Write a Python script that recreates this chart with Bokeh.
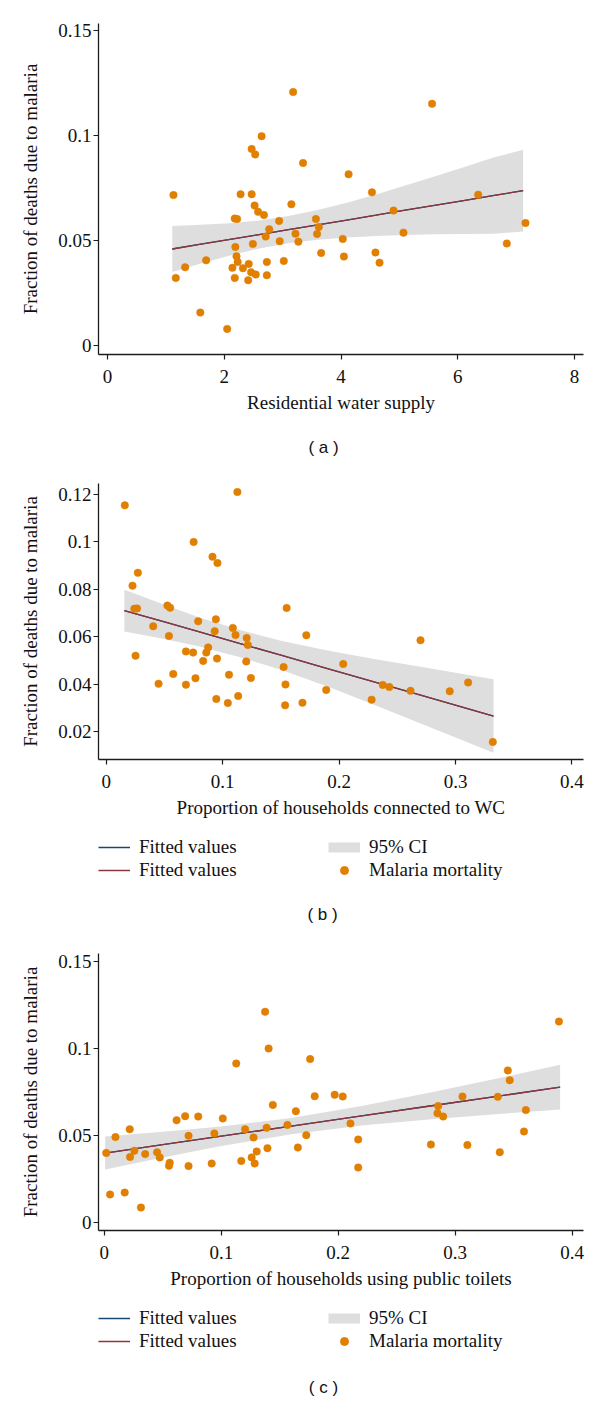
from bokeh.plotting import figure
from bokeh.models import (Range1d, FixedTicker, CustomJSTickFormatter, Legend, LegendItem, Label)
from bokeh.layouts import column
from bokeh.embed import file_html
from bokeh.resources import INLINE

# ---------------- data ----------------
# (a) residential water supply
a_x = [1.13, 1.17, 1.33, 1.69, 1.59, 2.05, 2.14, 2.18, 2.19, 2.18, 2.22, 2.21, 2.23, 2.28, 2.32,
       2.41, 2.42, 2.46, 2.47, 2.53, 2.47, 2.52, 2.58, 2.68, 2.49, 2.54, 2.64, 2.71, 2.77, 2.73,
       2.73, 2.94, 2.95, 3.02, 3.15, 3.18, 3.22, 3.27, 3.35, 3.57, 3.59, 3.62, 3.66, 4.03, 4.05,
       4.13, 4.53, 4.59, 4.66, 4.90, 5.07, 5.56, 6.35, 6.84, 7.16]
a_y = [0.0717, 0.0322, 0.0373, 0.0406, 0.0157, 0.0079, 0.0370, 0.0322, 0.0470, 0.0605, 0.0603,
       0.0425, 0.0398, 0.0721, 0.0368, 0.0311, 0.0389, 0.0349, 0.0937, 0.0911, 0.0721, 0.0667,
       0.0637, 0.0622, 0.0484, 0.0338, 0.0998, 0.0519, 0.0554, 0.0398, 0.0335, 0.0594, 0.0497,
       0.0403, 0.0673, 0.1208, 0.0533, 0.0495, 0.0870, 0.0603, 0.0532, 0.0565, 0.0441, 0.0508,
       0.0424, 0.0816, 0.0730, 0.0443, 0.0395, 0.0643, 0.0538, 0.1152, 0.0719, 0.0486, 0.0584]
a_fit_x = [1.11, 1.6, 2.1, 2.6, 3.1, 3.6, 4.1, 4.6, 5.1, 5.6, 6.1, 6.6, 7.12]
a_fit_y = [0.0460, 0.0483, 0.0506, 0.0529, 0.0552, 0.0575, 0.0598, 0.0621, 0.0645, 0.0668,
           0.0691, 0.0714, 0.0738]
a_ci_hi = [0.0570, 0.0575, 0.0583, 0.0596, 0.0617, 0.0646, 0.0681, 0.0720, 0.0763, 0.0806,
           0.0850, 0.0895, 0.0933]
a_ci_lo = [0.0350, 0.0391, 0.0429, 0.0462, 0.0487, 0.0504, 0.0515, 0.0522, 0.0527, 0.0530,
           0.0532, 0.0533, 0.0543]

# (b) proportion of households connected to WC
b_x = [0.0159, 0.0225, 0.0271, 0.0241, 0.0264, 0.0251, 0.0403, 0.0449, 0.0525, 0.0548, 0.0538,
       0.0575, 0.0684, 0.0684, 0.0746, 0.0750, 0.0766, 0.0789, 0.0832, 0.0859, 0.0875, 0.0912,
       0.0931, 0.0941, 0.0945, 0.0955, 0.0951, 0.1044, 0.1054, 0.1087, 0.1110, 0.1126, 0.1133,
       0.1206, 0.1216, 0.1202, 0.1242, 0.1523, 0.1539, 0.1536, 0.1549, 0.1685, 0.1718, 0.1889,
       0.2035, 0.2279, 0.2375, 0.2431, 0.2613, 0.2699, 0.2950, 0.3108, 0.3320]
b_y = [0.1154, 0.0816, 0.0870, 0.0719, 0.0720, 0.0521, 0.0645, 0.0403, 0.0732, 0.0723, 0.0604,
       0.0444, 0.0539, 0.0399, 0.0534, 0.1000, 0.0426, 0.0666, 0.0499, 0.0534, 0.0556, 0.0938,
       0.0624, 0.0674, 0.0339, 0.0911, 0.0509, 0.0322, 0.0441, 0.0638, 0.0608, 0.1210, 0.0351,
       0.0596, 0.0566, 0.0497, 0.0427, 0.0473, 0.0400, 0.0312, 0.0722, 0.0323, 0.0607, 0.0377,
       0.0486, 0.0336, 0.0398, 0.0389, 0.0373, 0.0586, 0.0371, 0.0408, 0.0158]
b_fit_x = [0.0155, 0.05, 0.08, 0.115, 0.15, 0.19, 0.23, 0.27, 0.3326]
b_fit_y = [0.0711, 0.0663, 0.0621, 0.0572, 0.0523, 0.0467, 0.0411, 0.0355, 0.0267]
b_ci_hi = [0.0799, 0.0735, 0.0682, 0.0629, 0.0584, 0.0543, 0.0507, 0.0474, 0.0422]
b_ci_lo = [0.0623, 0.0591, 0.0560, 0.0515, 0.0462, 0.0391, 0.0315, 0.0236, 0.0112]

# (c) proportion of households using public toilets
c_x = [0.0016, 0.0049, 0.0095, 0.0174, 0.0217, 0.0220, 0.0257, 0.0313, 0.0349, 0.0451, 0.0474,
       0.0559, 0.0553, 0.0618, 0.0691, 0.0720, 0.0720, 0.0803, 0.0918, 0.0941, 0.1013, 0.1128,
       0.1171, 0.1204, 0.1260, 0.1276, 0.1286, 0.1303, 0.1375, 0.1388, 0.1395, 0.1405, 0.1441,
       0.1566, 0.1638, 0.1655, 0.1727, 0.1760, 0.1799, 0.1970, 0.2039, 0.2105, 0.2171, 0.2171,
       0.2793, 0.2855, 0.2849, 0.2898, 0.3063, 0.3105, 0.3365, 0.3382, 0.3451, 0.3467, 0.3589,
       0.3605, 0.3888]
c_y = [0.0398, 0.0159, 0.0489, 0.0170, 0.0534, 0.0375, 0.0410, 0.0084, 0.0391, 0.0402, 0.0372,
       0.0341, 0.0324, 0.0586, 0.0609, 0.0496, 0.0322, 0.0607, 0.0337, 0.0510, 0.0596, 0.0912,
       0.0352, 0.0534, 0.0372, 0.0487, 0.0337, 0.0406, 0.1209, 0.0542, 0.0425, 0.0998, 0.0674,
       0.0559, 0.0638, 0.0429, 0.0500, 0.0937, 0.0724, 0.0732, 0.0722, 0.0567, 0.0475, 0.0314,
       0.0446, 0.0667, 0.0626, 0.0607, 0.0722, 0.0443, 0.0720, 0.0402, 0.0872, 0.0816, 0.0521,
       0.0644, 0.1153]
c_fit_x = [0.0007, 0.05, 0.1, 0.16, 0.22, 0.28, 0.34, 0.3898]
c_fit_y = [0.0397, 0.0445, 0.0494, 0.0552, 0.0611, 0.0669, 0.0727, 0.0776]
c_ci_hi = [0.0492, 0.0519, 0.0550, 0.0599, 0.0667, 0.0747, 0.0831, 0.0904]
c_ci_lo = [0.0302, 0.0371, 0.0438, 0.0505, 0.0555, 0.0591, 0.0623, 0.0648]

x_ticks_a = [0, 2, 4, 6, 8]
x_ticks_bc = [0, 0.1, 0.2, 0.3, 0.4]
y_ticks_ac = [0, 0.05, 0.1, 0.15]
y_ticks_b = [0.02, 0.04, 0.06, 0.08, 0.1, 0.12]

y_title = "Fraction of deaths due to malaria"
x_titles = ["Residential water supply",
            "Proportion of households connected to WC",
            "Proportion of households using public toilets"]
legend_labels = ["Fitted values", "Fitted values", "95% CI", "Malaria mortality"]
captions = ["( a )", "( b )", "( c )"]

# ---------------- style ----------------
SERIF = "Liberation Serif"
SANS = "Liberation Sans"
ORANGE = "#E07F00"
MAROON = "#90353B"
NAVY = "#1A476F"
BAND = "#DEDEDE"
AXIS = "#1c1c1c"
FS = "19px"

fmt = CustomJSTickFormatter(code="return Number(tick.toFixed(6)).toString();")


def style_fig(p):
    p.outline_line_color = None
    p.grid.visible = False
    p.background_fill_color = "white"
    p.border_fill_color = "white"


def make_panel(x, y, fx, fy, hi, lo, xr, yr, xt, yt, xtitle, height, mt, mb):
    p = figure(width=600, height=height, output_backend="svg", toolbar_location=None,
               x_range=Range1d(*xr), y_range=Range1d(*yr),
               min_border_left=98, min_border_right=17, min_border_top=mt, min_border_bottom=mb)
    style_fig(p)
    p.varea(x=fx, y1=lo, y2=hi, fill_color=BAND, fill_alpha=1.0)
    p.line(fx, fy, line_color=NAVY, line_width=1.3)
    p.line(fx, fy, line_color=MAROON, line_width=1.3)
    p.scatter(x, y, size=7.5, fill_color=ORANGE, line_color=ORANGE, line_width=0.5)

    for ax, ticks in ((p.xaxis[0], xt), (p.yaxis[0], yt)):
        ax.ticker = FixedTicker(ticks=ticks)
        ax.formatter = fmt
        ax.minor_tick_line_color = None
        ax.major_tick_in = 0
        ax.major_tick_out = 5
        ax.axis_line_color = AXIS
        ax.axis_line_width = 1.3
        ax.major_tick_line_color = AXIS
        ax.major_tick_line_width = 1.2
        ax.major_label_text_font = SERIF
        ax.major_label_text_font_size = FS
        ax.major_label_text_color = "#111111"
        ax.axis_label_text_font = SERIF
        ax.axis_label_text_font_size = FS
        ax.axis_label_text_font_style = "normal"
        ax.axis_label_text_color = "#111111"
    p.xaxis.major_label_standoff = 10
    p.xaxis.axis_label_standoff = 6
    p.yaxis.major_label_standoff = 2
    p.yaxis.axis_label_standoff = 14
    p.xaxis.axis_label = xtitle
    p.yaxis.axis_label = y_title
    return p


def make_key_strip(height, caption, cap_xy, key=None):
    # strip below a panel: its key (proxy renderers kept hidden) and its caption
    q = figure(width=600, height=height, output_backend="svg", toolbar_location=None,
               x_range=Range1d(0, 1), y_range=Range1d(0, 1),
               x_axis_location=None, y_axis_location=None,
               min_border_left=98, min_border_right=17, min_border_top=0, min_border_bottom=0)
    style_fig(q)
    if key is not None:
        fx, fy, x, y, leg_xy = key
        blue = q.line(fx, fy, line_color=NAVY, line_width=1.3, visible=False)
        red = q.line(fx, fy, line_color=MAROON, line_width=1.3, visible=False)
        band = q.line(fx, fy, line_color=BAND, line_width=10, visible=False)
        dots = q.scatter(x, y, size=7.5, fill_color=ORANGE, line_color=ORANGE, visible=False)
        items = [LegendItem(label=legend_labels[0], renderers=[blue]),
                 LegendItem(label=legend_labels[1], renderers=[red]),
                 LegendItem(label=legend_labels[2], renderers=[band]),
                 LegendItem(label=legend_labels[3], renderers=[dots])]
        leg = Legend(items=items, location=leg_xy, ncols=2,
                     glyph_width=32, glyph_height=20, label_height=20, label_width=188,
                     label_standoff=9, spacing=1, padding=0, margin=0,
                     label_text_font=SERIF, label_text_font_size=FS, label_text_color="#111111",
                     border_line_color=None, background_fill_alpha=0,
                     inactive_fill_alpha=0, click_policy="none")
        q.add_layout(leg, "center")
    q.add_layout(Label(x=cap_xy[0], y=cap_xy[1], x_units="screen", y_units="screen",
                       text=caption, text_align="center", text_baseline="middle",
                       text_font=SANS, text_font_size="17px", text_color="#111111"))
    return q


pa = make_panel(a_x, a_y, a_fit_x, a_fit_y, a_ci_hi, a_ci_lo,
                (-0.154, 8.154), (-0.0043, 0.1535), x_ticks_a, y_ticks_ac, x_titles[0],
                428, 23, 74)
ka = make_key_strip(42, captions[0], (225, 23))

pb = make_panel(b_x, b_y, b_fit_x, b_fit_y, b_ci_hi, b_ci_lo,
                (-0.0067, 0.4099), (0.0084, 0.1246), x_ticks_bc, y_ticks_b, x_titles[1],
                365, 13, 76)
kb = make_key_strip(105, captions[1], (224, 26), (b_fit_x, b_fit_y, b_x, b_y, (0, 59)))

pc = make_panel(c_x, c_y, c_fit_x, c_fit_y, c_ci_hi, c_ci_lo,
                (-0.0050, 0.4098), (-0.0048, 0.1544), x_ticks_bc, y_ticks_ac, x_titles[2],
                360, 13, 70)
kc = make_key_strip(103, captions[2], (225, 16), (c_fit_x, c_fit_y, c_x, c_y, (0, 51)))

layout = column(pa, ka, pb, kb, pc, kc, spacing=0)
open("out.html", "w").write(file_html(layout, INLINE))
